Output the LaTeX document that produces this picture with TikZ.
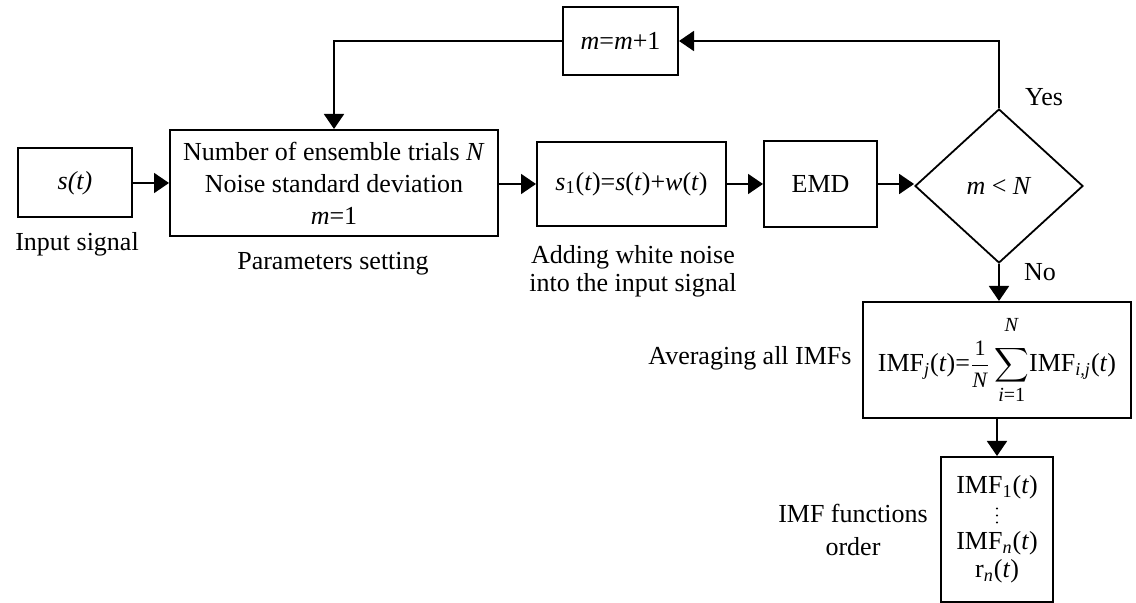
\documentclass[tikz,border=0pt]{standalone}
\usepackage{amsmath}
\usepackage{fontspec}
\setmainfont{Liberation Serif}
\usetikzlibrary{shapes.geometric,arrows.meta}

\tikzset{
  every node/.style={font=\fontsize{13}{16}\selectfont},
  blk/.style={draw, line width=1pt, inner sep=0pt, align=center},
  lbl/.style={inner sep=0pt, align=center},
  arr/.style={line width=0.9pt, -{Triangle[length=7.5pt,width=10pt]}},
}

\begin{document}
\begin{tikzpicture}[x=0.5pt, y=-0.5pt]
  \useasboundingbox (0,0) rectangle (1136,603);

  % main chain
  \node[blk, minimum width=57pt, minimum height=34.5pt] (st) at (75,183) {\textit{s(t)}};
  \node[blk, minimum width=164pt, minimum height=53pt] (par) at (334,183)
    {Number of ensemble trials \textit{N}\\Noise standard deviation\\\textit{m}=1};
  \node[blk, minimum width=94.5pt, minimum height=42pt] (add) at (631.5,184)
    {\textit{s}\textsubscript{1}(\textit{t})=\textit{s}(\textit{t})+\textit{w}(\textit{t})};
  \node[blk, minimum width=56.5pt, minimum height=43pt] (emd) at (820.5,184) {EMD};
  \node[diamond, draw, line width=0.9pt, inner sep=0pt,
        minimum width=84pt, minimum height=77pt] (dec) at (999,186)
    {\textit{m} {<} \textit{N}};

  % loop counter
  \node[blk, minimum width=57.5pt, minimum height=34pt] (inc) at (620.5,41)
    {\textit{m}=\textit{m}+1};

  % averaging and output
  \node[blk, minimum width=134pt, minimum height=58pt] (avg) at (997,360)
    {IMF\textsubscript{\textit{j}}(\textit{t})=$\displaystyle
      \frac{\text{\fontsize{11}{11}\selectfont 1}}{\text{\fontsize{11}{11}\selectfont\textit{N}}}
      \sum_{\text{\fontsize{10}{10}\selectfont\textit{i}=1}}^{\raisebox{5pt}{\fontsize{10}{10}\selectfont\textit{N}}}$%
     IMF\textsubscript{\textit{i,j}}(\textit{t})};
  \node[blk, minimum width=56pt, minimum height=72.5pt,
        font=\fontsize{13}{14}\selectfont] (out) at (997,529.5)
    {IMF\textsubscript{1}(\textit{t})\\[14pt]
     IMF\textsubscript{\textit{n}}(\textit{t})\\
     r\textsubscript{\textit{n}}(\textit{t})};
  % vertical ellipsis between the first and the n-th IMF
  \fill (out.center) ++(0,-21) circle[radius=0.55pt]
                     ++(0,7)   circle[radius=0.55pt]
                     ++(0,7)   circle[radius=0.55pt];

  % captions
  \node[lbl] (capin) at (77,244) {Input signal};
  \node[lbl] (cappar) at (333,264) {Parameters setting};
  \node[lbl, font=\fontsize{13}{14}\selectfont] (capadd) at (633,271)
    {Adding white noise\\into the input signal};
  \node[lbl] (capavg) at (750,358) {Averaging all IMFs};
  \node[lbl, font=\fontsize{13}{16.5}\selectfont] (capout) at (853,530)
    {IMF functions\\order};
  \node[lbl] (yes) at (1044,97) {Yes};
  \node[lbl] (no) at (1040,272) {No};

  % connectors
  \draw[arr] (st.east) -- (st.east -| par.west);
  \draw[arr] (par.east |- add.west) -- (add.west);
  \draw[arr] (add.east) -- (emd.west);
  \draw[arr] (emd.east) -- (emd.east -| dec.west);
  \draw[arr] (dec.south) -- (dec.south |- avg.north);
  \draw[arr] (avg.south) -- (out.north);
  \draw[arr] (dec.north) |- (inc.east);
  \draw[arr] (inc.west) -| (par.north);
\end{tikzpicture}
\end{document}
